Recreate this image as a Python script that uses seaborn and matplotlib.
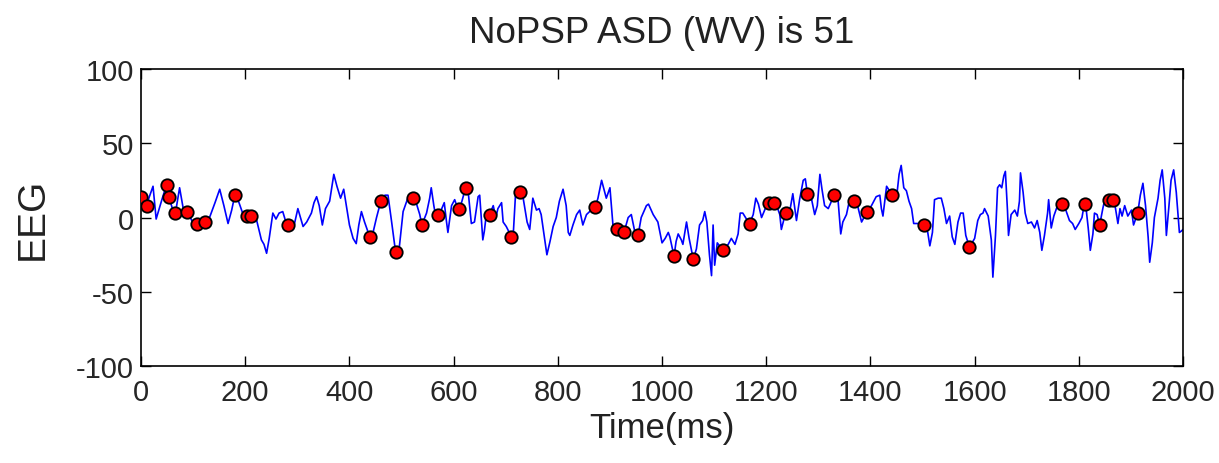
import matplotlib
matplotlib.use("Agg")
import matplotlib.pyplot as plt
import seaborn as sns
import pandas as pd

# EEG trace (time in ms, amplitude)
time_ms = [0, 10, 23, 29, 40, 49, 55, 62, 66, 74, 81, 89, 96, 103, 112, 122, 132, 142, 151, 159, 167, 174, 180, 188, 195, 205, 214,
           222, 231, 236, 241, 246, 253, 259, 265, 272, 278, 284, 292, 301, 306, 311, 318, 327, 332, 337, 342, 348, 354, 362, 370, 376, 383, 389, 394, 400, 407,
           413, 418, 423, 429, 439, 446, 452, 458, 461, 468, 474, 481, 487, 490, 496, 503, 512, 522, 528, 535, 539, 548, 554, 557, 562, 567, 570, 576, 582, 586, 589, 596, 602, 608,
           612, 623, 628, 634, 640, 647, 650, 656, 659, 663, 669, 676, 681, 685, 692, 695, 701, 711, 714, 719, 727, 733, 741, 746, 752, 759, 764, 768, 775, 779, 785, 791, 797, 803, 810,
           816, 820, 823, 829, 836, 842, 848, 855, 864, 872, 877, 884, 890, 893, 900, 906, 914, 927, 935, 941, 948, 954, 960, 970, 974, 983, 992, 1000, 1006, 1012,
           1015, 1021, 1023, 1027, 1031, 1037, 1040, 1047, 1052, 1060, 1066, 1072, 1078, 1082, 1086, 1091, 1095, 1098, 1101, 1106, 1117, 1127, 1133, 1140, 1146, 1150, 1155, 1162, 1168, 1175, 1180, 1185, 1191, 1197, 1202, 1210,
           1218, 1226, 1229, 1237, 1245, 1251, 1258, 1264, 1271, 1275, 1279, 1286, 1293, 1298, 1303, 1307, 1312, 1319, 1324, 1330, 1338, 1343, 1347, 1354, 1360, 1369, 1376, 1383, 1389, 1394, 1402, 1411,
           1418, 1421, 1424, 1431, 1442, 1450, 1455, 1459, 1464, 1469, 1474, 1479, 1483, 1492, 1502, 1510, 1514, 1519, 1523, 1530, 1536, 1541, 1546, 1552, 1557, 1562, 1568, 1573, 1578, 1583, 1590, 1600, 1606, 1611, 1616,
           1619, 1626, 1632, 1635, 1640, 1644, 1648, 1652, 1656, 1659, 1663, 1665, 1670, 1677, 1682, 1686, 1688, 1693, 1697, 1702, 1709, 1715, 1720, 1725, 1729, 1734, 1740, 1742, 1747, 1752, 1759, 1768, 1774, 1782, 1788, 1793, 1800, 1806, 1810, 1813,
           1818, 1822, 1827, 1830, 1835, 1840, 1846, 1851, 1860, 1869, 1875, 1879, 1883, 1888, 1894, 1901, 1905, 1913, 1918, 1923, 1928, 1933, 1936, 1941, 1945, 1952, 1956, 1960, 1965, 1968, 1973, 1977, 1982, 1987, 1993, 1997, 2000]
eeg = [14, 8, 21, -1, 12, 22, 12, 4, 3, 20, 6, 4, -1, -6, -4, -3, 0.5, 10, 19, 8, -4, 5, 15, 10, 3, 1, 1,
       -2, -15, -18, -24, -14, 3, -1, 3, 4, -3, -6, -8, 6, 0, -6, -3, 3, 10, 14, 8, -5, 6, 11, 29, 21, 13, 19, 8, -5, -14,
       -17.5, -5, 4, -3, -13, -9, 0, 8, 11, 15, 15, -3, -19, -23, -19, 4, 13, 13, 10, 2, -5, 3, 13, 20, 8, -2, 2, 5, 10, -2, -10, 8, 12, 6,
       6, 20, 17, -4, -3, 14, 15, -15, -9, 3, 2, 8, 0, 6, 10, -3, -6, -13, -14, 17, 17, 14, -3, -8, 13, 5, 6, 2, -15, -25, -16, -6, 0, 11, 19,
       8, -10, -12, -5, 2, 5, -5, 2, 5, 7, 13, 25, 17, 13, 20, -6, -8, -10, 0, 2, -10, -12, 0, 8, 9, 2, -3, -17, -14, -10,
       -13, -23, -26, -16, -11, -15, -18, -3, -14, -28, -21, -5, -2, 4, -3, -25, -39, -5, -32, -17, -22, -18, -14, -18, -11, 3, 3, -1, -4, 2, 13, 9, 0, 5, 10, 11,
       10, 2, -8, 3, 4, 16, -2, 12, 25, 26, 16, 14, 2, 8, 29, 19, 8, 6, 10, 15, 11, -11, -3, 2, 12, 11, 7, -3, 1, 4, 8, 14,
       15, 6, 1, 21, 15, 13, 29, 35, 20, 18, 11, 6, -4, -4, -5, -10, -19, -10, 12, 13, 13, 6, -4, 1, -13, -18, -3, 3, 3, -12, -20, -14, -2, 2, 3,
       6, 1, -15, -40, -12, 20, 22, 20, 28, 31, 5, -12, 2, 5, 1, 11, 30, 17, 3, -4, -3, -7, -2, -10, -22, -12, 3, 12, -7, 1, 8, 9, 6, -2, -4, -8, -4, 0, 8, 9,
       -7, -22, -11, 3, 2, -5, 6, 14, 13, 9, -4, 6, 1, 8, 1, 5, -5, 3, 15, 23, 8, -13, -30, -17, 0, 13, 25, 32, 13, -12, 8, 25, 32, 17, -10, -9, -8]

# Marked points
mark_time = [0, 12, 49, 53, 66, 89, 108, 122, 180, 203, 212, 282, 439, 461, 490, 522, 539, 570, 610, 623, 669, 711, 727,
             872, 914, 927, 954, 1023, 1060, 1117, 1168, 1205, 1215, 1237, 1279, 1330, 1369, 1394, 1442, 1502, 1590,
             1768, 1812, 1840, 1858, 1866, 1914]
mark_eeg = [14, 8, 22, 14, 3, 4, -4, -3, 15, 1, 1, -5, -13, 11, -23, 13, -5, 2, 6, 20, 2, -13, 17,
            7, -8, -10, -12, -26, -28, -22, -4, 10, 10, 3, 16, 15, 11, 4, 15, -5, -20,
            9, 9, -5, 12, 12, 3]

x_ticks = [0, 200, 400, 600, 800, 1000, 1200, 1400, 1600, 1800, 2000]
y_ticks = [-100, -50, 0, 50, 100]

sns.set_theme(style="ticks")
plt.rcParams['font.family'] = ['Liberation Sans', 'DejaVu Sans']
plt.rcParams['axes.unicode_minus'] = False

line_df = pd.DataFrame({"t": time_ms, "v": eeg})
mark_df = pd.DataFrame({"t": mark_time, "v": mark_eeg})

fig = plt.figure(figsize=(12.19, 4.64), dpi=100)
ax = fig.add_axes([0.1157, 0.208, 0.8548, 0.642])

sns.lineplot(data=line_df, x="t", y="v", sort=False, estimator=None, color="#0000ff", linewidth=1.2, ax=ax)
sns.scatterplot(data=mark_df, x="t", y="v", color="#ff0000", edgecolor="black", linewidth=1.3, s=80, ax=ax, zorder=3)

ax.set_xlim(0, 2000)
ax.set_ylim(-100, 100)
ax.set_xticks(x_ticks)
ax.set_yticks(y_ticks)
ax.tick_params(direction="in", length=7, width=1, top=True, right=True, labelsize=21, colors="black", labelcolor="#262626")
ax.tick_params(axis="x", pad=8)
ax.tick_params(axis="y", pad=5)
for sp in ax.spines.values():
    sp.set_visible(True)
    sp.set_color("black")
    sp.set_linewidth(1.2)

ax.set_xlabel("Time(ms)", fontsize=25, color="#222222", labelpad=4)
ax.set_ylabel("EEG", fontsize=28, color="#222222", labelpad=18)
ax.set_title("NoPSP ASD (WV) is 51", fontsize=26.5, color="#222222", pad=19)

fig.savefig("out.png", dpi=100, facecolor="white")
